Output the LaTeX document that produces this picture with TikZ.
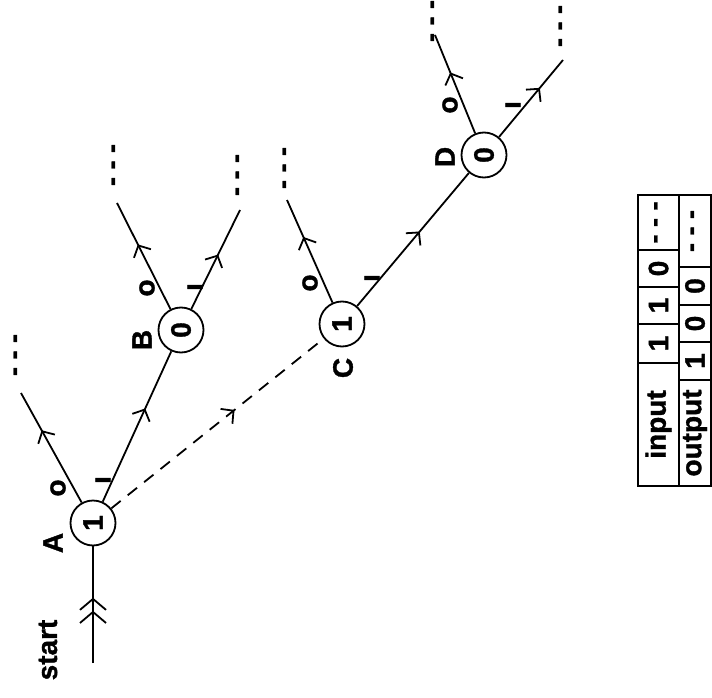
\documentclass[tikz,border=0pt]{standalone}
\usepackage{fontspec}
\setmainfont[BoldFeatures={FakeBold=1.2}]{Liberation Sans}
\usetikzlibrary{arrows.meta,decorations.markings}
\begin{document}
\begin{tikzpicture}[x=1pt,y=-1pt,
  every node/.style={font=\fontsize{28}{28}\selectfont\bfseries, rotate=90, inner sep=0pt},
  state/.style={circle,draw,line width=1.8pt,minimum size=45pt},
  ln/.style={line width=1.8pt},
  tbl/.style={line width=1.5pt},
  mid/.style={postaction={decorate},decoration={markings,mark=at position #1 with {\arrow{Straight Barb[length=9pt,width=19pt,line width=1.8pt]}}}},
  dblmid/.style={postaction={decorate},decoration={markings,mark=at position #1 with {\arrow{Straight Barb[length=11pt,width=26pt,line width=1.8pt] Straight Barb[length=11pt,width=26pt,line width=1.8pt]}}}},
  dots/.style={font=\fontsize{27}{27}\selectfont\bfseries},
]
\useasboundingbox (0,0) rectangle (712,698);

% states
\node[state] (A) at (93,523) {1};
\node[state] (B) at (181,330) {0};
\node[state] (C) at (342,324) {1};
\node[state] (D) at (484,155) {0};

% state names
\node (lA) at (53,543) {A};
\node (lB) at (142,340) {B};
\node (lC) at (343,368) {C};
\node (lD) at (445,157) {D};
\node (lstart) at (48,650) {start};

% free ends
\coordinate (s) at (93,663);
\coordinate (a0) at (21,393);
\coordinate (b0) at (117,203);
\coordinate (b1) at (240,210);
\coordinate (c0) at (287,200);
\coordinate (d0) at (435,35);
\coordinate (d1) at (563,60);

% connectors
\draw[ln,dblmid=0.56] (s) -- (A);
\draw[ln,mid=0.66] (A) -- (a0);
\draw[ln,mid=0.62] (A) -- (B);
\draw[ln,mid=0.61] (B) -- (b0);
\draw[ln,mid=0.55] (B) -- (b1);
\draw[ln,dash pattern=on 12pt off 9pt,mid=0.58] (A) -- (C);
\draw[ln,mid=0.64] (C) -- (c0);
\draw[ln,mid=0.56] (C) -- (D);
\draw[ln,mid=0.62] (D) -- (d0);
\draw[ln,mid=0.64] (D) -- (d1);

% edge labels
\node (eA0) at (58,488) {o};
\node (eA1) at (103,480) {ı};
\node (eB0) at (147,288) {o};
\node (eB1) at (195,287) {ı};
\node (eC0) at (310,283) {o};
\node (eC1) at (372,278) {ı};
\node (eD0) at (450,105) {o};
\node (eD1) at (513,105) {ı};

% continuation dots
\node[dots] (tA0) at (18,355) {- - -};
\node[dots] (tB0) at (116,165) {- - -};
\node[dots] (tB1) at (240,175) {- - -};
\node[dots] (tC0) at (287,168) {- - -};
\node[dots] (tD0) at (435,21) {- - -};
\node[dots] (tD1) at (563,26) {- - -};

% table
\draw[tbl] (638,195) rectangle (711,486);
\draw[tbl] (679,195) -- (679,486);
\foreach \yy in {363,324,287,250} \draw[tbl] (638,\yy) -- (679,\yy);
\foreach \yy in {380,342,305,267} \draw[tbl] (679,\yy) -- (711,\yy);
\node (in0) at (658.5,424.5) {input};
\node (in1) at (658.5,343.5) {1};
\node (in2) at (658.5,305.5) {1};
\node (in3) at (658.5,268.5) {0};
\node[dots] (in4) at (658.5,222.5) {- - -};
\node (out0) at (695,433) {output};
\node (out1) at (695,361) {1};
\node (out2) at (695,323.5) {0};
\node (out3) at (695,286) {0};
\node[dots] (out4) at (695,231) {- - -};
\end{tikzpicture}
\end{document}
